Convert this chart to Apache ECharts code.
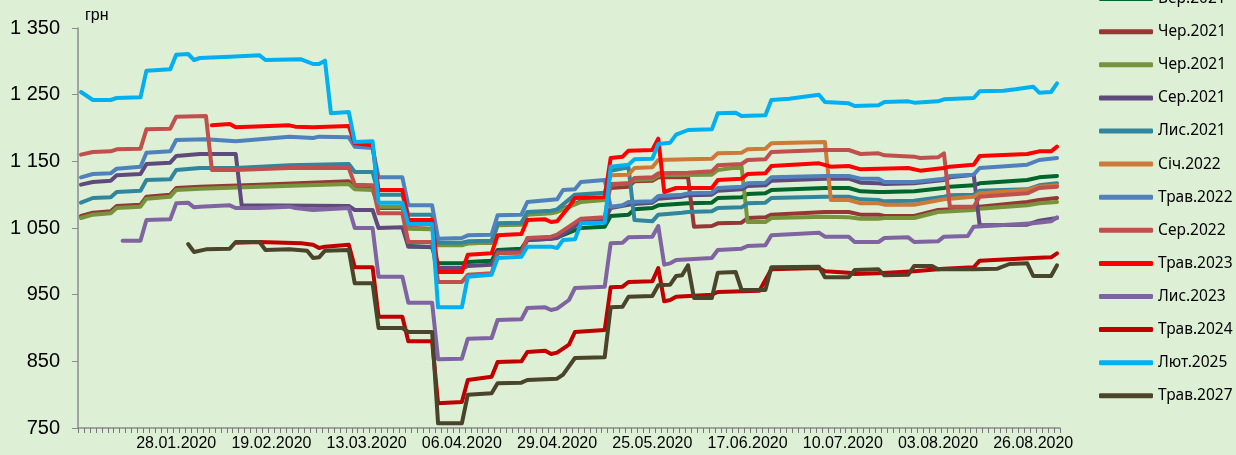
<!DOCTYPE html>
<html>
<head>
<meta charset="utf-8">
<script src="https://cdn.jsdelivr.net/npm/echarts@6/dist/echarts.min.js"></script>
<style>
  html, body { margin: 0; padding: 0; background: #ddefd5; }
  #chart { width: 1236px; height: 455px; }
</style>
</head>
<body>
<div id="chart"></div>
<script>
// торгові дні 2020 (без вихідних і святкових)
const holidays = ['07.01', '09.03', '20.04', '01.05', '11.05', '08.06', '29.06', '24.08'];
const dates = [];
for (let t = Date.UTC(2020, 0, 3); t <= Date.UTC(2020, 8, 1); t += 864e5) {
  const d = new Date(t);
  const wd = d.getUTCDay();
  const dm = String(d.getUTCDate()).padStart(2, '0') + '.' + String(d.getUTCMonth() + 1).padStart(2, '0');
  if (wd === 0 || wd === 6 || holidays.includes(dm)) continue;
  dates.push(dm + '.2020');
}

const seriesNames = ['Вер.2021', 'Чер.2021', 'Чер.2021 ', 'Сер.2021', 'Лис.2021', 'Січ.2022', 'Трав.2022',
  'Сер.2022', 'Трав.2023', 'Лис.2023', 'Трав.2024', 'Лют.2025', 'Трав.2027'];
const seriesColors = ['#00642d', '#953735', '#77933c', '#604a7b', '#31859c', '#cd7a38', '#4f81bd',
  '#c0504d', '#ff0000', '#8064a2', '#c00000', '#00b0f0', '#4a452a'];

// [індекс дня, ціна, грн]
const sep2021 = [[55,1023],[59,1021],[60,997],[64,997],[65,999],[69,1001],[70,1017],[74,1019],[75,1032],[79,1034],[80,1036],[84,1050],[88,1052],[89,1068],[92,1070],[93,1078],[96,1080],[97,1084],[102,1087],[106,1088],[107,1095],[111,1096],[112,1101],[115,1102],[116,1107],[125,1110],[129,1110],[131,1105],[134,1104],[135,1104],[140,1105],[145,1110],[146,1112],[150,1114],[151,1117],[159,1122],[161,1126],[164,1128]];
const jun2021a = [[0,1068],[2,1073],[5,1075],[6,1083],[10,1085],[11,1097],[15,1100],[16,1110],[20,1112],[30,1115],[45,1120],[46,1112],[49,1110],[50,1080],[54,1080],[55,1050],[59,1049],[60,1025],[64,1025],[65,1027],[69,1028],[70,1056],[74,1057],[75,1071],[79,1073],[80,1075],[84,1090],[88,1093],[89,1110],[92,1112],[93,1120],[96,1121],[97,1126],[102,1126],[103,1052],[106,1053],[107,1057],[111,1058],[112,1065],[115,1066],[116,1070],[125,1074],[129,1074],[131,1070],[134,1070],[135,1068],[140,1068],[144,1077],[150,1080],[151,1082],[159,1089],[161,1092],[164,1095]];
const jun2021b = [[0,1065],[2,1070],[5,1072],[6,1080],[10,1082],[11,1094],[15,1097],[16,1107],[20,1109],[30,1112],[45,1116],[46,1108],[49,1107],[50,1082],[54,1082],[55,1049],[59,1048],[60,1024],[64,1024],[65,1027],[69,1028],[70,1054],[74,1055],[75,1070],[79,1072],[80,1074],[84,1089],[88,1092],[89,1115],[92,1117],[93,1122],[96,1123],[97,1129],[106,1130],[107,1137],[111,1142],[112,1059],[115,1059],[116,1065],[125,1067],[129,1066],[131,1064],[134,1064],[135,1065],[140,1065],[144,1074],[150,1077],[151,1079],[159,1084],[161,1087],[164,1089]];
const aug2021 = [[0,1115],[2,1119],[5,1121],[6,1129],[10,1131],[11,1146],[15,1148],[16,1158],[20,1161],[26,1161],[27,1084],[45,1083],[46,1077],[49,1077],[50,1050],[54,1051],[55,1022],[59,1022],[60,990],[64,990],[65,993],[69,995],[70,1014],[74,1015],[75,1032],[79,1034],[80,1035],[84,1059],[88,1062],[89,1080],[92,1085],[93,1086],[96,1088],[97,1094],[101,1097],[102,1099],[106,1100],[107,1106],[111,1108],[112,1113],[115,1114],[116,1121],[125,1124],[129,1124],[131,1118],[134,1117],[135,1116],[140,1117],[145,1122],[146,1126],[150,1130],[151,1054],[159,1055],[161,1061],[164,1065]];
const nov2021 = [[0,1088],[2,1095],[5,1096],[6,1104],[10,1106],[11,1122],[15,1123],[16,1137],[20,1140],[26,1140],[35,1144],[45,1146],[46,1134],[49,1134],[50,1100],[54,1100],[55,1070],[59,1070],[60,1028],[64,1028],[65,1030],[69,1031],[70,1057],[74,1058],[75,1074],[79,1076],[80,1078],[83,1100],[88,1103],[89,1136],[92,1141],[93,1062],[96,1060],[97,1070],[101,1073],[102,1074],[106,1075],[107,1080],[111,1081],[112,1087],[115,1088],[116,1095],[125,1097],[129,1097],[131,1093],[134,1092],[135,1090],[140,1091],[145,1097],[146,1099],[150,1100],[151,1106],[159,1108],[161,1114],[164,1117]];
const jan2022 = [[88,1095],[89,1129],[92,1130],[93,1140],[96,1141],[97,1152],[102,1153],[106,1154],[107,1162],[111,1163],[112,1168],[115,1169],[116,1177],[125,1179],[126,1092],[129,1092],[131,1087],[134,1087],[135,1085],[140,1085],[145,1093],[150,1097],[151,1102],[159,1107],[161,1112],[164,1114]];
const may2022 = [[0,1126],[2,1131],[5,1132],[6,1139],[10,1142],[11,1163],[15,1165],[16,1182],[21,1183],[26,1180],[35,1187],[39,1185],[40,1187],[45,1186],[46,1172],[49,1170],[50,1126],[54,1126],[55,1084],[59,1084],[60,1034],[64,1035],[65,1039],[69,1040],[70,1069],[74,1070],[75,1089],[80,1093],[81,1107],[83,1108],[84,1119],[88,1122],[89,1082],[91,1084],[92,1089],[96,1090],[97,1098],[101,1100],[102,1102],[106,1103],[107,1110],[111,1112],[112,1117],[115,1118],[116,1126],[125,1128],[129,1128],[131,1124],[134,1124],[135,1119],[140,1119],[145,1124],[146,1128],[150,1130],[151,1140],[159,1145],[161,1152],[164,1155]];
const aug2022 = [[0,1160],[2,1164],[5,1165],[6,1168],[10,1169],[11,1198],[15,1199],[16,1217],[21,1218],[22,1137],[26,1137],[35,1140],[45,1140],[46,1115],[49,1114],[50,1072],[54,1072],[55,1029],[59,1029],[60,969],[64,969],[65,980],[69,982],[70,1012],[74,1013],[75,1035],[79,1037],[80,1040],[84,1064],[88,1066],[89,1116],[92,1117],[93,1125],[96,1126],[97,1132],[102,1133],[106,1135],[107,1144],[111,1146],[112,1152],[115,1153],[116,1164],[125,1167],[129,1167],[131,1161],[134,1162],[135,1159],[140,1157],[141,1155],[144,1156],[145,1162],[146,1082],[150,1082],[151,1097],[159,1102],[161,1110],[164,1112]];
const may2023 = [[22,1204],[25,1206],[26,1201],[35,1204],[36,1202],[39,1201],[45,1203],[46,1177],[49,1174],[50,1107],[54,1107],[55,1062],[59,1062],[60,984],[64,984],[65,1010],[69,1012],[70,1039],[74,1041],[75,1062],[78,1063],[79,1059],[80,1060],[82,1082],[83,1095],[88,1096],[89,1155],[91,1157],[92,1166],[96,1167],[97,1184],[98,1104],[100,1110],[106,1110],[107,1122],[111,1124],[112,1131],[115,1132],[116,1143],[124,1147],[126,1142],[129,1143],[131,1138],[139,1140],[141,1136],[145,1140],[146,1142],[150,1145],[151,1158],[159,1161],[161,1165],[163,1165],[164,1172]];
const nov2023 = [[7,1031],[10,1031],[11,1062],[15,1063],[16,1087],[18,1088],[19,1081],[20,1082],[25,1084],[26,1080],[30,1080],[35,1082],[36,1080],[39,1077],[45,1080],[46,1050],[49,1050],[50,977],[54,977],[55,938],[59,938],[60,853],[64,854],[65,884],[69,885],[70,912],[74,913],[75,930],[78,931],[79,927],[80,929],[82,942],[83,960],[88,962],[89,1027],[91,1028],[92,1036],[96,1037],[97,1053],[98,995],[99,997],[100,1002],[106,1005],[107,1017],[111,1019],[112,1023],[115,1024],[116,1039],[124,1043],[125,1037],[129,1037],[130,1029],[134,1029],[135,1035],[139,1036],[140,1029],[144,1030],[145,1037],[149,1038],[150,1052],[160,1057],[163,1060],[164,1066]];
const may2024 = [[26,1028],[30,1029],[37,1027],[39,1025],[40,1020],[41,1022],[45,1025],[46,991],[49,991],[50,917],[54,917],[55,880],[59,880],[60,787],[64,789],[65,822],[69,827],[70,849],[74,850],[75,864],[78,866],[79,861],[80,863],[82,875],[83,894],[88,897],[89,961],[91,962],[92,969],[96,970],[97,990],[98,940],[99,942],[100,947],[106,950],[107,954],[114,956],[115,972],[116,988],[124,990],[125,985],[129,983],[130,981],[134,982],[140,985],[145,989],[150,991],[151,1001],[160,1005],[163,1006],[164,1012]];
const feb2025 = [[0,1254],[2,1242],[5,1242],[6,1245],[10,1246],[11,1286],[15,1288],[16,1310],[18,1311],[19,1302],[20,1305],[25,1307],[30,1309],[31,1302],[37,1303],[39,1296],[40,1296],[41,1301],[42,1222],[45,1224],[46,1179],[49,1180],[50,1088],[54,1088],[55,1056],[59,1056],[60,931],[64,931],[65,977],[69,980],[70,1005],[74,1007],[75,1022],[79,1022],[80,1020],[81,1032],[83,1033],[84,1057],[88,1058],[89,1142],[92,1145],[93,1153],[96,1154],[97,1176],[99,1178],[100,1190],[102,1197],[106,1198],[107,1222],[110,1223],[111,1218],[115,1219],[116,1242],[119,1244],[124,1250],[125,1239],[129,1237],[130,1233],[134,1234],[135,1239],[139,1240],[140,1238],[144,1240],[145,1243],[150,1245],[151,1255],[155,1256],[157,1258],[160,1262],[161,1253],[163,1254],[164,1267]];
const may2027 = [[18,1026],[19,1014],[21,1018],[25,1019],[26,1029],[30,1029],[31,1017],[35,1018],[38,1016],[39,1005],[40,1006],[41,1016],[45,1017],[46,967],[49,967],[50,900],[54,900],[55,894],[59,894],[60,757],[64,757],[65,800],[69,802],[70,817],[74,818],[75,822],[80,824],[81,830],[83,855],[88,856],[89,931],[91,932],[92,947],[96,948],[97,964],[99,965],[100,978],[101,979],[102,994],[103,945],[106,945],[107,983],[110,984],[111,957],[115,957],[116,991],[124,992],[125,976],[129,976],[130,987],[134,988],[135,979],[139,980],[140,993],[143,993],[144,988],[150,988],[154,989],[156,996],[159,997],[160,978],[163,978],[164,994]];

const seriesData = [sep2021, jun2021a, jun2021b, aug2021, nov2021, jan2022, may2022,
  aug2022, may2023, nov2023, may2024, feb2025, may2027];

const chart = echarts.init(document.getElementById('chart'));

// 1350 -> "1 350"
function fmtUah(v) {
  return v >= 1000 ? Math.floor(v / 1000) + ' ' + String(v % 1000).padStart(3, '0') : String(v);
}

const axisGray = '#8c8c8c';
const dateFont = { color: '#000', fontFamily: 'Liberation Sans', fontSize: 16 };

chart.setOption({
  backgroundColor: '#ddefd5',
  animation: false,
  grid: { left: 78, right: 176, top: 28, bottom: 27, containLabel: false },
  legend: {
    orient: 'vertical',
    left: 1099,
    top: -9.4,
    padding: 0,
    icon: 'roundRect',
    itemWidth: 54,
    itemHeight: 5,
    itemGap: 17.1,
    selectedMode: false,
    textStyle: { fontFamily: 'Noto Sans', fontSize: 15.5, lineHeight: 16, color: '#000' },
    data: seriesNames
  },
  xAxis: {
    type: 'category',
    data: dates,
    boundaryGap: true,
    axisLine: { lineStyle: { color: axisGray, width: 1.5 } },
    axisTick: { show: true, interval: 0, length: 5, lineStyle: { color: '#777', width: 1 } },
    axisLabel: Object.assign({
      interval: 15,
      margin: 8,
      hideOverlap: false,
      // перший підпис v6 притискає вліво — компенсуємо шириною блоку
      formatter: (value, index) => (index === 0 ? '{first|' + value + '}' : value),
      rich: { first: Object.assign({ padding: [0, -40, 0, 0] }, dateFont) }
    }, dateFont),
    splitLine: { show: false }
  },
  yAxis: {
    type: 'value',
    min: 750,
    max: 1350,
    interval: 100,
    name: 'грн',
    nameLocation: 'end',
    nameGap: 4,
    nameTextStyle: { align: 'left', padding: [0, 0, 0, 7], color: '#000', fontFamily: 'Liberation Sans', fontSize: 16 },
    axisLine: { show: true, lineStyle: { color: axisGray, width: 1.5 } },
    axisTick: { show: true, length: 6, lineStyle: { color: axisGray } },
    axisLabel: {
      margin: 18,
      color: '#000',
      fontFamily: 'Liberation Sans',
      fontSize: 20,
      formatter: fmtUah
    },
    splitLine: { show: false }
  },
  series: seriesNames.map((name, k) => ({
    name: name,
    type: 'line',
    data: seriesData[k],
    color: seriesColors[k],
    symbol: 'none',
    showSymbol: false,
    lineStyle: { width: 4, color: seriesColors[k], cap: 'round', join: 'round' }
  }))
});

window.addEventListener('resize', () => chart.resize());
</script>
</body>
</html>
